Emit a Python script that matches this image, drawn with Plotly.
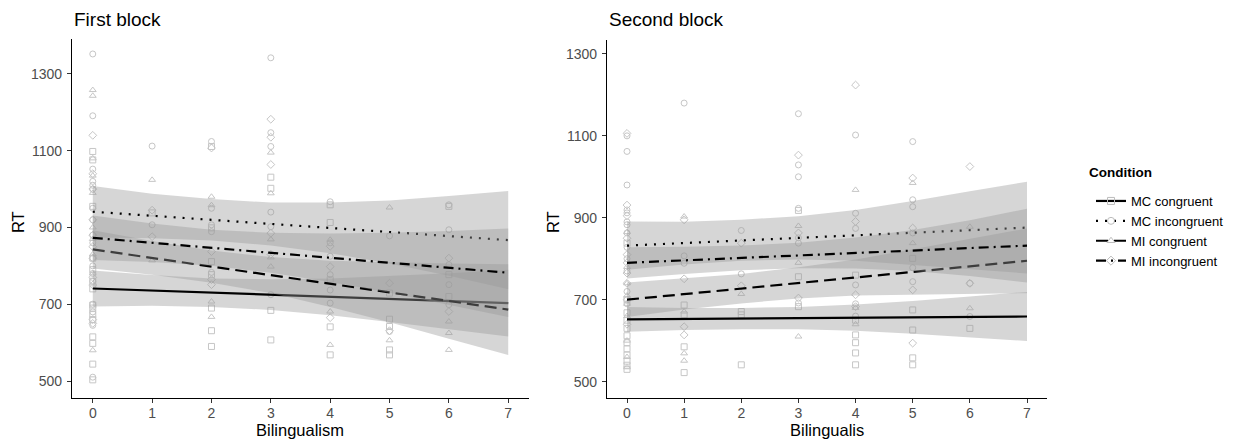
import plotly.graph_objects as go

# ---- data -------------------------------------------------------------
conditions = ["MC congruent", "MC incongruent", "MI congruent", "MI incongruent"]
bilingualism = [0, 1, 2, 3, 4, 5, 6, 7]
x_ticks = [0, 1, 2, 3, 4, 5, 6, 7]
y_ticks = [500, 700, 900, 1100, 1300]

# fitted regression lines (value at bilingualism 0 and 7), per condition
fit1_start = [741, 941, 843, 873]
fit1_end = [703, 867, 686, 782]
fit2_start = [652, 832, 700, 790]
fit2_end = [659, 876, 795, 832]

# confidence bands at bilingualism 0..7, first block
b1_mcc_lo = [694, 696, 693, 685, 671, 654, 635, 616]
b1_mcc_hi = [788, 776, 767, 765, 767, 774, 781, 790]
b1_mci_lo = [874, 872, 866, 853, 833, 806, 774, 739]
b1_mci_hi = [1008, 988, 974, 965, 965, 970, 982, 995]
b1_mic_lo = [793, 777, 756, 729, 693, 653, 610, 568]
b1_mic_hi = [893, 865, 840, 823, 813, 809, 806, 804]
b1_mii_lo = [815, 810, 800, 782, 758, 730, 699, 667]
b1_mii_hi = [931, 910, 894, 886, 884, 886, 891, 897]

# confidence bands at bilingualism 0..7, second block
b2_mcc_lo = [622, 626, 628, 628, 624, 617, 608, 599]
b2_mcc_hi = [682, 680, 680, 682, 688, 697, 708, 719]
b2_mci_lo = [773, 786, 795, 798, 795, 785, 775, 764]
b2_mci_hi = [891, 890, 895, 904, 919, 941, 965, 988]
b2_mic_lo = [658, 676, 691, 703, 710, 713, 714, 716]
b2_mic_hi = [742, 752, 763, 779, 798, 823, 848, 874]
b2_mii_lo = [752, 763, 772, 777, 776, 770, 758, 742]
b2_mii_hi = [828, 829, 832, 839, 852, 870, 894, 922]

# participant RTs, listed per bilingualism level 0..6
p1_mcc = [[1098, 1076, 955, 820, 790, 760, 740, 698, 690, 673, 660, 615, 598, 544, 503],
          [938], [1111, 899, 811, 777, 690, 631, 590], [1031, 1002, 684, 607],
          [959, 913, 764, 641, 568], [729, 661, 642, 581, 568], [955, 777, 720]]
p1_mci = [[1352, 1191, 1052, 1020, 1010, 1000, 950, 920, 880, 860, 820, 800, 780, 760, 700, 680, 645, 510],
          [1112, 907], [1124, 950, 907, 889, 783], [1342, 1147, 1111, 940, 902, 725],
          [967, 860, 825, 777, 737, 703], [878, 629], [959, 894, 803, 751, 699]]
p1_mic = [[1258, 1243, 1080, 1035, 990, 900, 870, 830, 780, 580],
          [1024, 814], [980, 958, 707, 667], [1095, 989, 869, 822, 798],
          [868, 681, 594], [952, 606], [655, 625, 581]]
p1_mii = [[1140, 1040, 1000, 920, 880, 850, 820, 770, 750, 660, 650],
          [945, 876], [1107, 837, 764, 751], [1182, 1135, 1064, 885, 830],
          [851, 798, 665], [755, 631], [820, 681]]

p2_mcc = [[838, 700, 668, 650, 630, 612, 595, 580, 565, 550, 540, 530],
          [687, 663, 585, 522], [671, 663, 541], [918, 756, 683],
          [760, 650, 614, 595, 570, 541], [801, 675, 626, 558, 541], [630]]
p2_mci = [[1100, 1062, 980, 919, 912, 890, 883, 863, 828, 800, 770, 720, 690],
          [1180, 807, 789], [869, 763], [1154, 1029, 1000, 923, 851, 838, 692],
          [1102, 911, 874, 736, 690, 660], [1086, 944, 927, 863, 778, 744], [740, 659]]
p2_mic = [[865, 780, 740, 710, 690, 660, 600, 560, 535],
          [903, 671, 569, 551], [714], [880, 790, 610],
          [968, 680, 640], [985, 838], [878, 679]]
p2_mii = [[1106, 931, 905, 850, 810, 790, 765, 740, 700, 640],
          [895, 751, 634, 614], [838, 734], [1053, 863, 704],
          [1224, 891, 712, 683], [997, 875, 724, 594], [1025, 740]]

# ---- styling ----------------------------------------------------------
symbols = ["square-open", "circle-open", "triangle-up-open", "diamond-open"]
dashes = ["solid", "2px,7px", "12px,6px", "10px,5px,2px,5px"]
point_color = "#c6c6c6"
band_color = "rgba(153,153,153,0.4)"
FONT = "Arial, Liberation Sans, sans-serif"

blocks = [
    dict(xa="x", ya="y", points=[p1_mcc, p1_mci, p1_mic, p1_mii],
         bands=[(b1_mcc_lo, b1_mcc_hi), (b1_mci_lo, b1_mci_hi),
                (b1_mic_lo, b1_mic_hi), (b1_mii_lo, b1_mii_hi)],
         start=fit1_start, end=fit1_end),
    dict(xa="x2", ya="y2", points=[p2_mcc, p2_mci, p2_mic, p2_mii],
         bands=[(b2_mcc_lo, b2_mcc_hi), (b2_mci_lo, b2_mci_hi),
                (b2_mic_lo, b2_mic_hi), (b2_mii_lo, b2_mii_hi)],
         start=fit2_start, end=fit2_end),
]

fig = go.Figure()

for blk in blocks:
    # raw points
    for ci, per_level in enumerate(blk["points"]):
        xs, ys = [], []
        for lvl, vals in enumerate(per_level):
            xs += [lvl] * len(vals)
            ys += vals
        fig.add_trace(go.Scatter(
            x=xs, y=ys, mode="markers", xaxis=blk["xa"], yaxis=blk["ya"],
            marker=dict(symbol=symbols[ci], size=6, color=point_color,
                        line=dict(width=1, color=point_color)),
            showlegend=False, hoverinfo="skip"))
    # band + fitted line, per condition (later bands sit over earlier lines)
    for ci in range(4):
        lo, hi = blk["bands"][ci]
        fig.add_trace(go.Scatter(
            x=bilingualism + bilingualism[::-1], y=hi + lo[::-1],
            fill="toself", fillcolor=band_color, line=dict(width=0),
            mode="lines", xaxis=blk["xa"], yaxis=blk["ya"],
            showlegend=False, hoverinfo="skip"))
        fig.add_trace(go.Scatter(
            x=[bilingualism[0], bilingualism[-1]],
            y=[blk["start"][ci], blk["end"][ci]],
            mode="lines", xaxis=blk["xa"], yaxis=blk["ya"],
            line=dict(color="black", width=2.2, dash=dashes[ci]),
            showlegend=False, hoverinfo="skip"))

# legend entries
for ci, name in enumerate(conditions):
    fig.add_trace(go.Scatter(
        x=[None], y=[None], mode="lines+markers", name=name,
        line=dict(color="black", width=2.2, dash=dashes[ci]),
        marker=dict(symbol=symbols[ci], size=7, color="#bdbdbd",
                    line=dict(width=1, color="#bdbdbd"))))

W, H = 1249, 443
axis_common = dict(
    showgrid=False, zeroline=False, showline=True, linecolor="black",
    linewidth=1.2, ticks="outside", ticklen=4, tickcolor="#333333",
    tickfont=dict(family=FONT, size=14, color="#4d4d4d"))

fig.update_layout(
    width=W, height=H, margin=dict(l=0, r=0, t=0, b=0),
    paper_bgcolor="white", plot_bgcolor="white",
    font=dict(family=FONT, color="black"),
    xaxis=dict(domain=[72 / W, 529 / W], range=[-0.35, 7.35],
               tickvals=x_ticks, anchor="y", ticklabelstandoff=-2, **axis_common),
    yaxis=dict(domain=[1 - 398 / H, 1 - 39 / H], range=[455.7, 1391],
               tickvals=y_ticks, anchor="x", ticklabelstandoff=2, **axis_common),
    xaxis2=dict(domain=[607 / W, 1047 / W], range=[-0.35, 7.35],
                tickvals=x_ticks, anchor="y2", ticklabelstandoff=-2, **axis_common),
    yaxis2=dict(domain=[1 - 398 / H, 1 - 40 / H], range=[460, 1334],
                tickvals=y_ticks, anchor="x2", ticklabelstandoff=2, **axis_common),
    legend=dict(x=1091 / W, y=1 - 186 / H, xanchor="left", yanchor="top",
                font=dict(family=FONT, size=13, color="black"),
                tracegroupgap=0, itemwidth=30, bgcolor="rgba(0,0,0,0)"),
)

annotations = [
    dict(text="First block", x=72 / W, y=1 - 19 / H, xanchor="left", yanchor="middle",
         font=dict(size=19)),
    dict(text="Second block", x=607 / W, y=1 - 19 / H, xanchor="left", yanchor="middle",
         font=dict(size=19)),
    dict(text="Bilingualism", x=300 / W, y=1 - 430 / H, xanchor="center", yanchor="middle",
         font=dict(size=16.5)),
    dict(text="Bilingualis", x=827 / W, y=1 - 430 / H, xanchor="center", yanchor="middle",
         font=dict(size=16.5)),
    dict(text="RT", x=18 / W, y=1 - 222 / H, xanchor="center", yanchor="middle",
         textangle=-90, font=dict(size=16.5)),
    dict(text="RT", x=553 / W, y=1 - 222 / H, xanchor="center", yanchor="middle",
         textangle=-90, font=dict(size=16.5)),
    dict(text="<b>Condition</b>", x=1087 / W, y=1 - 173 / H, xanchor="left",
         yanchor="middle", font=dict(size=13.5)),
]
for a in annotations:
    a.update(xref="paper", yref="paper", showarrow=False)
    a["font"].update(family=FONT, color="black")
fig.update_layout(annotations=annotations)

fig.write_html("out.html")
